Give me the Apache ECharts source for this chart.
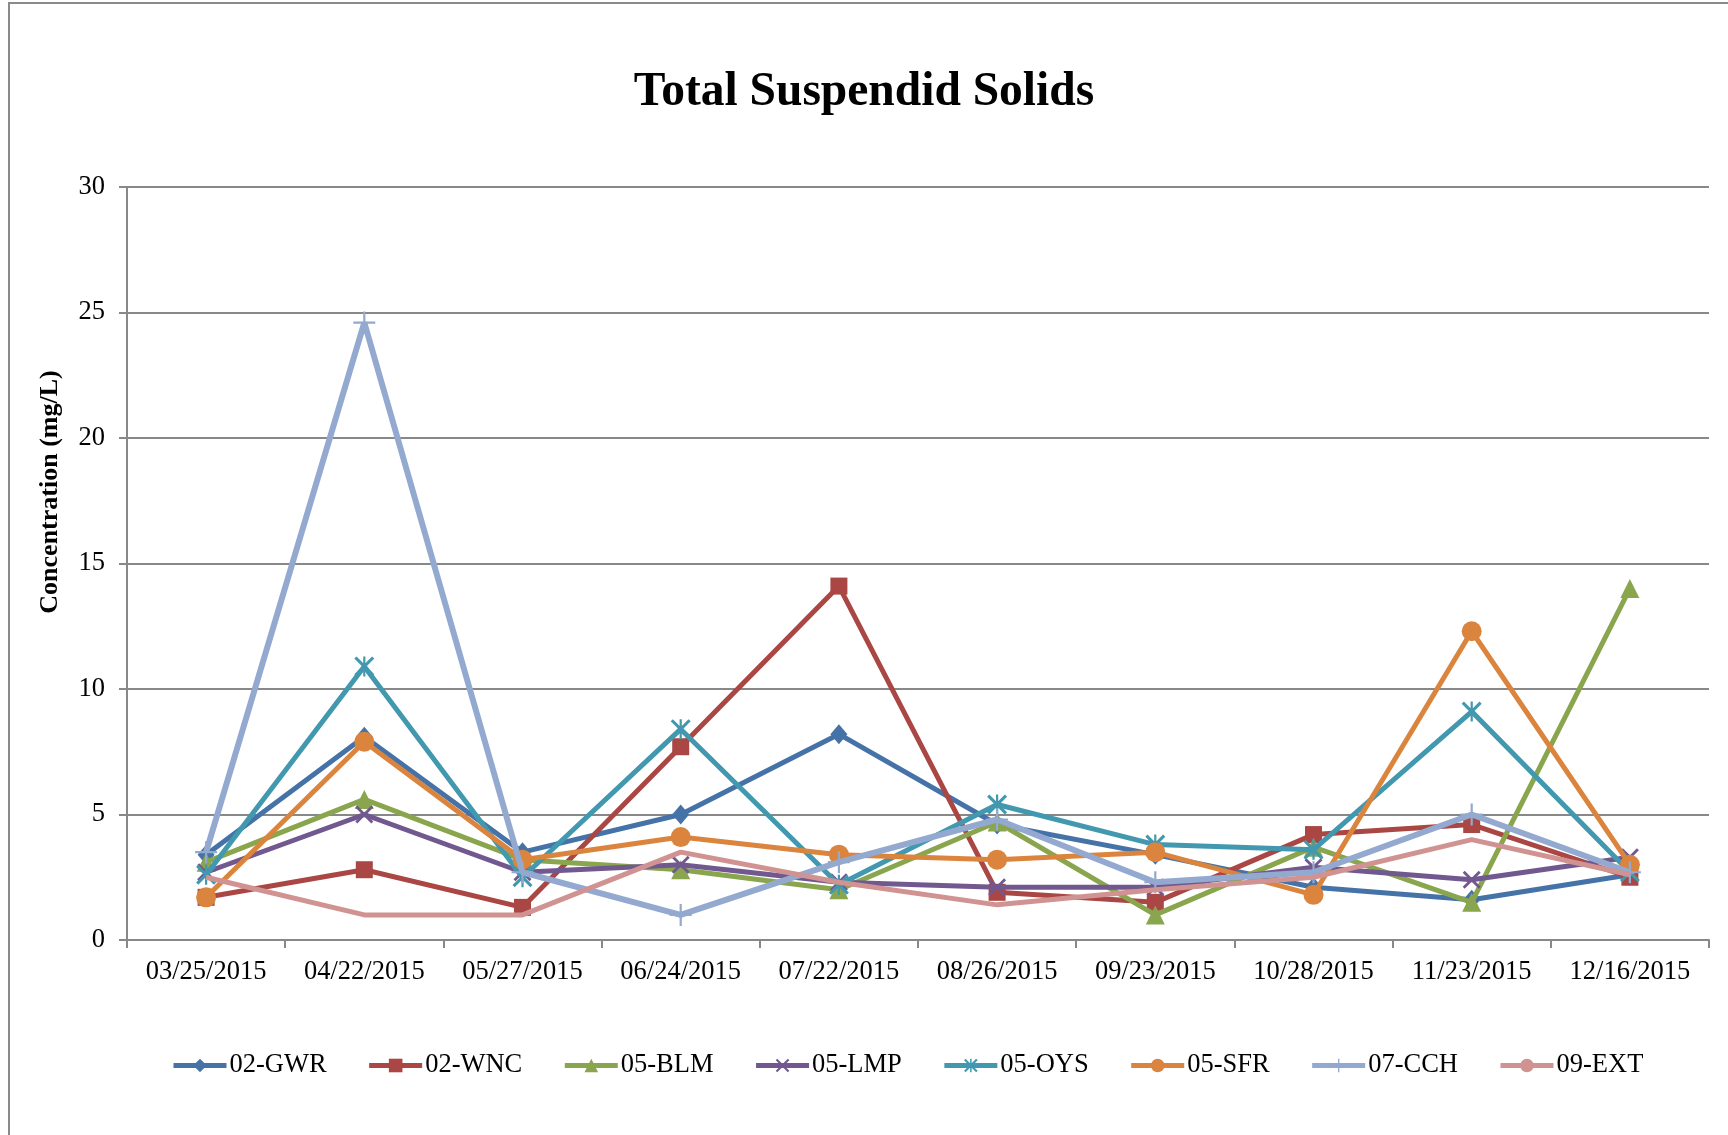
<!DOCTYPE html>
<html>
<head>
<meta charset="utf-8">
<script src="https://cdn.jsdelivr.net/npm/echarts@6/dist/echarts.min.js"></script>
<style>
html,body{margin:0;padding:0;background:#fff;}
#chart{width:1728px;height:1135px;}
</style>
</head>
<body>
<div id="chart"></div>
<script>
const categories = ['03/25/2015','04/22/2015','05/27/2015','06/24/2015','07/22/2015','08/26/2015','09/23/2015','10/28/2015','11/23/2015','12/16/2015'];
const yTicks = [0, 5, 10, 15, 20, 25, 30];
const seriesNames = ['02-GWR','02-WNC','05-BLM','05-LMP','05-OYS','05-SFR','07-CCH','09-EXT'];
const gwr = [3.4, 8.1, 3.5, 5.0, 8.2, 4.6, 3.4, 2.1, 1.6, 2.6];
const wnc = [1.7, 2.8, 1.3, 7.7, 14.1, 1.9, 1.5, 4.2, 4.6, 2.5];
const blm = [3.1, 5.6, 3.2, 2.8, 2.0, 4.7, 1.0, 3.7, 1.5, 14.0];
const lmp = [2.7, 5.0, 2.7, 3.0, 2.3, 2.1, 2.1, 2.9, 2.4, 3.3];
const oys = [2.6, 10.9, 2.5, 8.4, 2.2, 5.4, 3.8, 3.6, 9.1, 2.7];
const sfr = [1.7, 7.9, 3.2, 4.1, 3.4, 3.2, 3.5, 1.8, 12.3, 3.0];
const cch = [3.5, 24.6, 2.7, 1.0, 3.1, 4.8, 2.3, 2.7, 5.0, 2.7];
const ext = [2.5, 1.0, 1.0, 3.5, 2.3, 1.4, 2.0, 2.5, 4.0, 2.6];

const seriesData = [gwr, wnc, blm, lmp, oys, sfr, cch, ext];
const colors = ['#4572A7','#AA4643','#89A54E','#71588F','#4198AF','#DB843D','#93A9CF','#D19392'];
const X_PATH = 'path://M0,1.1L1.1,0L10,8.9L8.9,10Z M8.9,0L10,1.1L1.1,10L0,8.9Z';
const AST_PATH = 'path://M0,1.1L1.1,0L10,8.9L8.9,10Z M8.9,0L10,1.1L1.1,10L0,8.9Z M4.45,0L5.55,0L5.55,10L4.45,10Z';
const PLUS_PATH = 'path://M4.5,0L5.5,0L5.5,10L4.5,10Z M0,4.5L10,4.5L10,5.5L0,5.5Z';
const symbols = ['diamond','rect','triangle',X_PATH,AST_PATH,'circle',PLUS_PATH,'none'];
const symbolSizes = [[17,20],17,19,18,20,20,22,0];

const FONT = 'Liberation Serif';

const chart = echarts.init(document.getElementById('chart'), null, {renderer:'canvas'});
chart.setOption({
  animation: false,
  backgroundColor: '#fff',
  color: colors,
  title: {
    text: 'Total Suspendid Solids',
    left: 'center',
    top: 64,
    textStyle: {fontFamily: FONT, fontWeight: 'bold', fontSize: 47.5, color: '#000'}
  },
  graphic: [{
    type: 'rect',
    shape: {x: 9, y: 3, width: 1800, height: 1300},
    style: {fill: 'none', stroke: '#8a8a8a', lineWidth: 2},
    silent: true, z: -1
  }, {
    type: 'text',
    x: 50, y: 492,
    rotation: Math.PI / 2,
    style: {
      text: 'Concentration (mg/L)',
      font: 'bold 26px "Liberation Serif"',
      fill: '#000',
      align: 'center',
      verticalAlign: 'middle'
    },
    silent: true
  }],
  grid: {left: 127, right: 19, top: 187, bottom: 195, containLabel: false},
  legend: {
    bottom: 51,
    left: 166,
    itemWidth: 53,
    itemHeight: 17,
    itemGap: 40,
    lineStyle: {width: 5},
    textStyle: {fontFamily: FONT, fontSize: 26.5, color: '#000', padding: [0,0,0,-2]},
    data: seriesNames
  },
  xAxis: {
    type: 'category',
    data: categories,
    boundaryGap: true,
    axisLine: {lineStyle: {color: '#888', width: 2}},
    axisTick: {show: true, length: 8, lineStyle: {color: '#888', width: 2}},
    axisLabel: {fontFamily: FONT, fontSize: 26.5, color: '#000', margin: 19, interval: 0}
  },
  yAxis: {
    type: 'value',
    min: 0, max: 30, interval: 5,
    axisLine: {show: true, lineStyle: {color: '#888', width: 2}},
    axisTick: {show: true, length: 8, lineStyle: {color: '#888', width: 2}},
    splitLine: {show: true, lineStyle: {color: '#888', width: 2}},
    axisLabel: {fontFamily: FONT, fontSize: 26.5, color: '#000', margin: 22,
      formatter: v => yTicks.includes(v) ? String(v) : ''}
  },
  series: seriesNames.map((n, i) => ({
    name: n,
    type: 'line',
    data: seriesData[i],
    symbol: symbols[i],
    symbolSize: symbolSizes[i],
    showSymbol: symbols[i] !== 'none',
    lineStyle: {width: i === 6 ? 6 : 5, color: colors[i]},
    itemStyle: {color: colors[i], borderWidth: 0},
    z: 2 + i
  }))
});
</script>
</body>
</html>
